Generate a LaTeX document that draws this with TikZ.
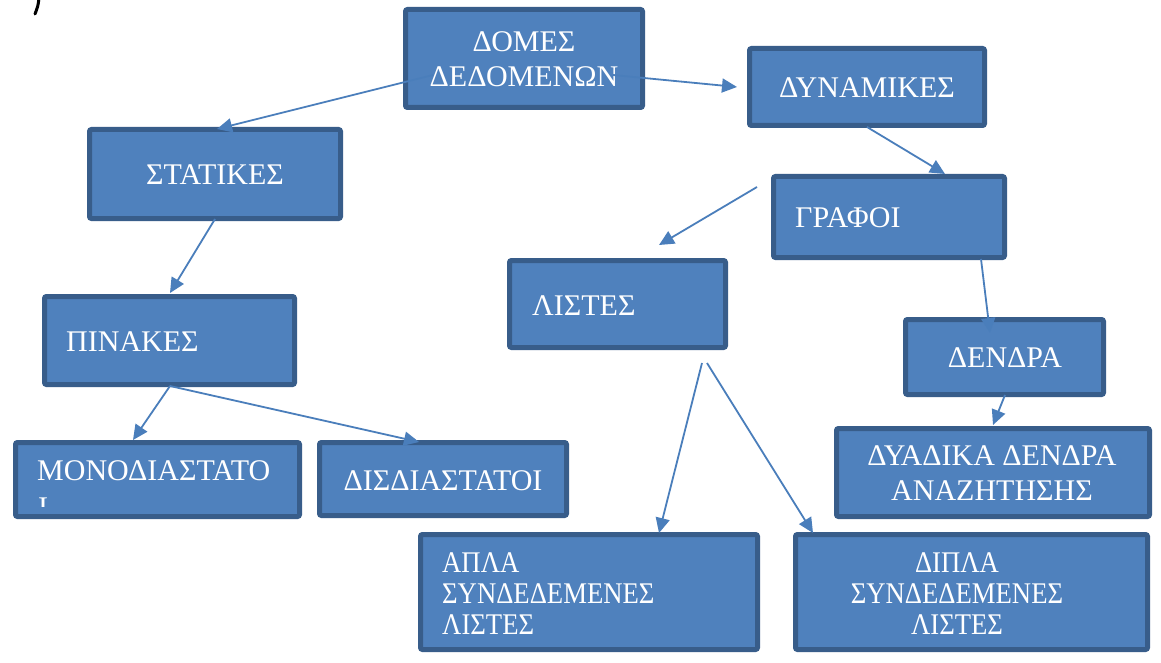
\documentclass[tikz,border=0pt]{standalone}
\usepackage{fontspec}
\setmainfont{Liberation Serif}
\usetikzlibrary{arrows.meta,calc,fit}
\definecolor{boxfill}{HTML}{4F81BD}
\definecolor{boxline}{HTML}{385D8A}
\definecolor{arrowc}{HTML}{4A7EBB}
\newcommand\mkbox[5]{\node[box, fit={(#2+2.5,#3+2.5) (#4-2.5,#5-2.5)}] (#1) {};}
\newcommand\cnd[1]{\scalebox{0.89}[1]{#1}}
\begin{document}
\begin{tikzpicture}[x=1pt,y=-1pt,
  box/.style={draw=boxline, fill=boxfill, line width=5pt, rounded corners=2pt, inner sep=0pt, outer sep=0pt},
  lbl/.style={text=white, font=\fontsize{30}{35}\selectfont, inner sep=0pt, anchor=base},
  lbll/.style={lbl, anchor=base west},
  arr/.style={draw=arrowc, line width=1.8pt, -{Triangle[length=15pt,width=14pt]}}]
\useasboundingbox[fill=white] (0,0) rectangle (1161,663);

% fragment at top-left
\draw[line width=3pt, line cap=round] (39,-2) .. controls (38,6) .. (35,14);

% boxes
\mkbox{domes}{403}{7}{645}{110}
\mkbox{dynamikes}{747}{46}{987}{128}
\mkbox{statikes}{87}{127}{343}{221}
\mkbox{grafoi}{771}{174}{1007}{260}
\mkbox{listes}{507}{258}{728}{350}
\mkbox{pinakes}{42}{294}{297}{387}
\mkbox{dendra}{903}{317}{1106}{397}
\mkbox{mono}{13}{440}{302}{519}
\mkbox{disd}{317}{440}{569}{518}
\mkbox{dyadika}{834}{426}{1152}{519}
\mkbox{apla}{418}{532}{760}{652}
\mkbox{dipla}{793}{532}{1150}{652}

% labels
\node[lbl] (t1a) at (524,52) {ΔΟΜΕΣ};
\node[lbl] (t1b) at (524,87) {ΔΕΔΟΜΕΝΩΝ};
\node[lbl] (t2) at (867,98) {ΔΥΝΑΜΙΚΕΣ};
\node[lbl] (t3) at (215,185) {ΣΤΑΤΙΚΕΣ};
\node[lbll] (t4) at (795,227) {ΓΡΑΦΟΙ};
\node[lbll] (t5) at (532,315) {ΛΙΣΤΕΣ};
\node[lbll] (t6) at (66,351) {ΠΙΝΑΚΕΣ};
\node[lbl] (t7) at (1005,367) {ΔΕΝΔΡΑ};
\node[lbll] (t8) at (37,480) {ΜΟΝΟΔΙΑΣΤΑΤΟ};
\begin{scope}
  \clip (30,490) rectangle (80,506);
  \node[lbll] (t8b) at (38,517) {Ι};
\end{scope}
\node[lbl] (t9) at (443,490) {ΔΙΣΔΙΑΣΤΑΤΟΙ};
\node[lbl] (t10a) at (992,465) {ΔΥΑΔΙΚΑ ΔΕΝΔΡΑ};
\node[lbl] (t10b) at (992,500) {ΑΝΑΖΗΤΗΣΗΣ};
\node[lbll] (t11a) at (442,572) {\cnd{ΑΠΛΑ}};
\node[lbll] (t11b) at (442,603) {\cnd{ΣΥΝΔΕΔΕΜΕΝΕΣ}};
\node[lbll] (t11c) at (442,634) {\cnd{ΛΙΣΤΕΣ}};
\node[lbl] (t12a) at (957,572) {\cnd{ΔΙΠΛΑ}};
\node[lbl] (t12b) at (957,603) {\cnd{ΣΥΝΔΕΔΕΜΕΝΕΣ}};
\node[lbl] (t12c) at (957,634) {\cnd{ΛΙΣΤΕΣ}};

% connectors
\draw[arr] ([shift={(-91,16.5)}]domes.center) -- ([shift={(2,-45)}]statikes.center);
\draw[arr] ([shift={(89,16.5)}]domes.center) -- ([shift={(-130,0)}]dynamikes.center);
\draw[arr] ([shift={(0,40)}]dynamikes.center) -- ([shift={(56,-43)}]grafoi.center);
\draw[arr] ([shift={(-132,-30)}]grafoi.center) -- ([shift={(41.5,-59)}]listes.center);
\draw[arr] ([shift={(92,42)}]grafoi.center) -- ([shift={(-14.5,-24)}]dendra.center);
\draw[arr] ([shift={(0,45)}]statikes.center) -- ([shift={(0.5,-47.5)}]pinakes.center);
\draw[arr] ([shift={(0.5,45.5)}]pinakes.center) -- ([shift={(-24.5,-39.5)}]mono.center);
\draw[arr] ([shift={(0.5,45.5)}]pinakes.center) -- ([shift={(-24,-37)}]disd.center);
\draw[arr] ([shift={(84.5,59)}]listes.center) -- ([shift={(70,-59)}]apla.center);
\draw[arr] ([shift={(89.5,59)}]listes.center) -- ([shift={(-158.5,-59)}]dipla.center);
\draw[arr] ([shift={(0.5,38)}]dendra.center) -- ([shift={(0,-47.5)}]dyadika.center);
\end{tikzpicture}
\end{document}
